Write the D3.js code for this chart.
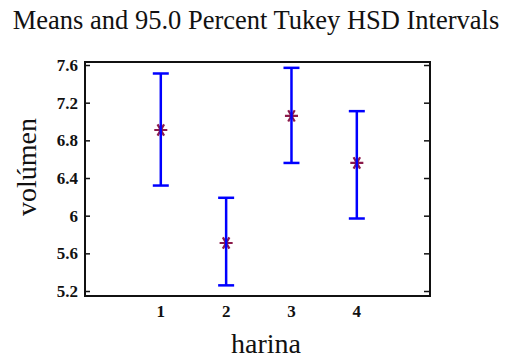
<!DOCTYPE html>
<html>
<head>
<meta charset="utf-8">
<script src="https://cdn.jsdelivr.net/npm/d3@7"></script>
<style>
  body { margin: 0; background: #fff; }
  text { font-family: "Liberation Serif", "Times New Roman", serif; fill: #111; }
</style>
</head>
<body>
<div class="canvas"></div>
<script>
// data
const groups = [1, 2, 3, 4];
const means = [6.91, 5.71, 7.06, 6.56];
const lower = [6.32, 5.26, 6.56, 5.97];
const upper = [7.51, 6.19, 7.57, 7.11];
const yTicks = [5.2, 5.6, 6, 6.4, 6.8, 7.2, 7.6];

const svg = d3.select('.canvas')
    .append('svg')
        .attr('width', 508)
        .attr('height', 360);

// plot box
const box = {left: 85, right: 430, top: 62, bottom: 296};

const x = d3.scaleLinear()
    .domain([-0.16, 5.12])
    .range([box.left, box.right]);

const y = d3.scaleLinear()
    .domain([5.147, 7.632])
    .range([box.bottom, box.top]);

// title
svg.append('text')
    .attr('x', 256)
    .attr('y', 29)
    .attr('text-anchor', 'middle')
    .attr('font-size', 26.5)
    .text('Means and 95.0 Percent Tukey HSD Intervals');

// left axis, ticks pointing into the plot
const yAxis = svg.append('g')
    .attr('transform', `translate(${box.left},0)`)
    .call(d3.axisRight(y).tickValues(yTicks).tickSize(5).tickFormat(''));
yAxis.select('.domain').remove();
yAxis.selectAll('line').attr('stroke', '#111').attr('stroke-width', 1.5);

svg.append('g').selectAll('text')
    .data(yTicks)
    .enter()
    .append('text')
        .attr('x', box.left - 7)
        .attr('y', d => y(d) + 6)
        .attr('text-anchor', 'end')
        .attr('font-size', 17)
        .attr('font-weight', 'bold')
        .attr('fill', '#333')
        .text(d => d3.format('')(d));

// right axis, ticks pointing inward
const yAxisR = svg.append('g')
    .attr('transform', `translate(${box.right},0)`)
    .call(d3.axisLeft(y).tickValues(yTicks).tickSize(6).tickFormat(''));
yAxisR.select('.domain').remove();
yAxisR.selectAll('line').attr('stroke', '#111').attr('stroke-width', 1.5);

// x tick labels (no tick marks)
svg.append('g').selectAll('text')
    .data(groups)
    .enter()
    .append('text')
        .attr('x', d => x(d))
        .attr('y', box.bottom + 21)
        .attr('text-anchor', 'middle')
        .attr('font-size', 17)
        .attr('font-weight', 'bold')
        .attr('fill', '#333')
        .text(d => d);

// frame
svg.append('rect')
    .attr('x', box.left)
    .attr('y', box.top)
    .attr('width', box.right - box.left)
    .attr('height', box.bottom - box.top)
    .attr('fill', 'none')
    .attr('stroke', '#111')
    .attr('stroke-width', 2);

// axis titles
svg.append('text')
    .attr('transform', `translate(36,${(box.top + box.bottom) / 2 - 12}) rotate(-90)`)
    .attr('text-anchor', 'middle')
    .attr('font-size', 28)
    .attr('fill', '#333')
    .text('volúmen');

svg.append('text')
    .attr('x', 266)
    .attr('y', 353)
    .attr('text-anchor', 'middle')
    .attr('font-size', 28)
    .attr('fill', '#333')
    .text('harina');

// asterisk means (drawn under the bars)
svg.append('g').selectAll('path')
    .data(groups)
    .enter()
    .append('path')
        .attr('transform', (d, i) => `translate(${x(d)},${y(means[i])}) rotate(90)`)
        .attr('d', d3.symbol(d3.symbolAsterisk, 120))
        .attr('fill', 'none')
        .attr('stroke', '#8b1a4a')
        .attr('stroke-width', 2.2);

// error bars
const bars = svg.append('g')
    .attr('stroke', '#0000ff')
    .attr('stroke-width', 2.5);

bars.selectAll('line.v')
    .data(groups)
    .enter()
    .append('line')
        .attr('class', 'v')
        .attr('x1', d => x(d))
        .attr('x2', d => x(d))
        .attr('y1', (d, i) => y(upper[i]))
        .attr('y2', (d, i) => y(lower[i]));

['top', 'bot'].forEach(k => {
    bars.selectAll('line.' + k)
        .data(groups)
        .enter()
        .append('line')
            .attr('class', k)
            .attr('x1', d => x(d) - 8)
            .attr('x2', d => x(d) + 8)
            .attr('y1', (d, i) => y(k === 'top' ? upper[i] : lower[i]))
            .attr('y2', (d, i) => y(k === 'top' ? upper[i] : lower[i]));
});
</script>
</body>
</html>
